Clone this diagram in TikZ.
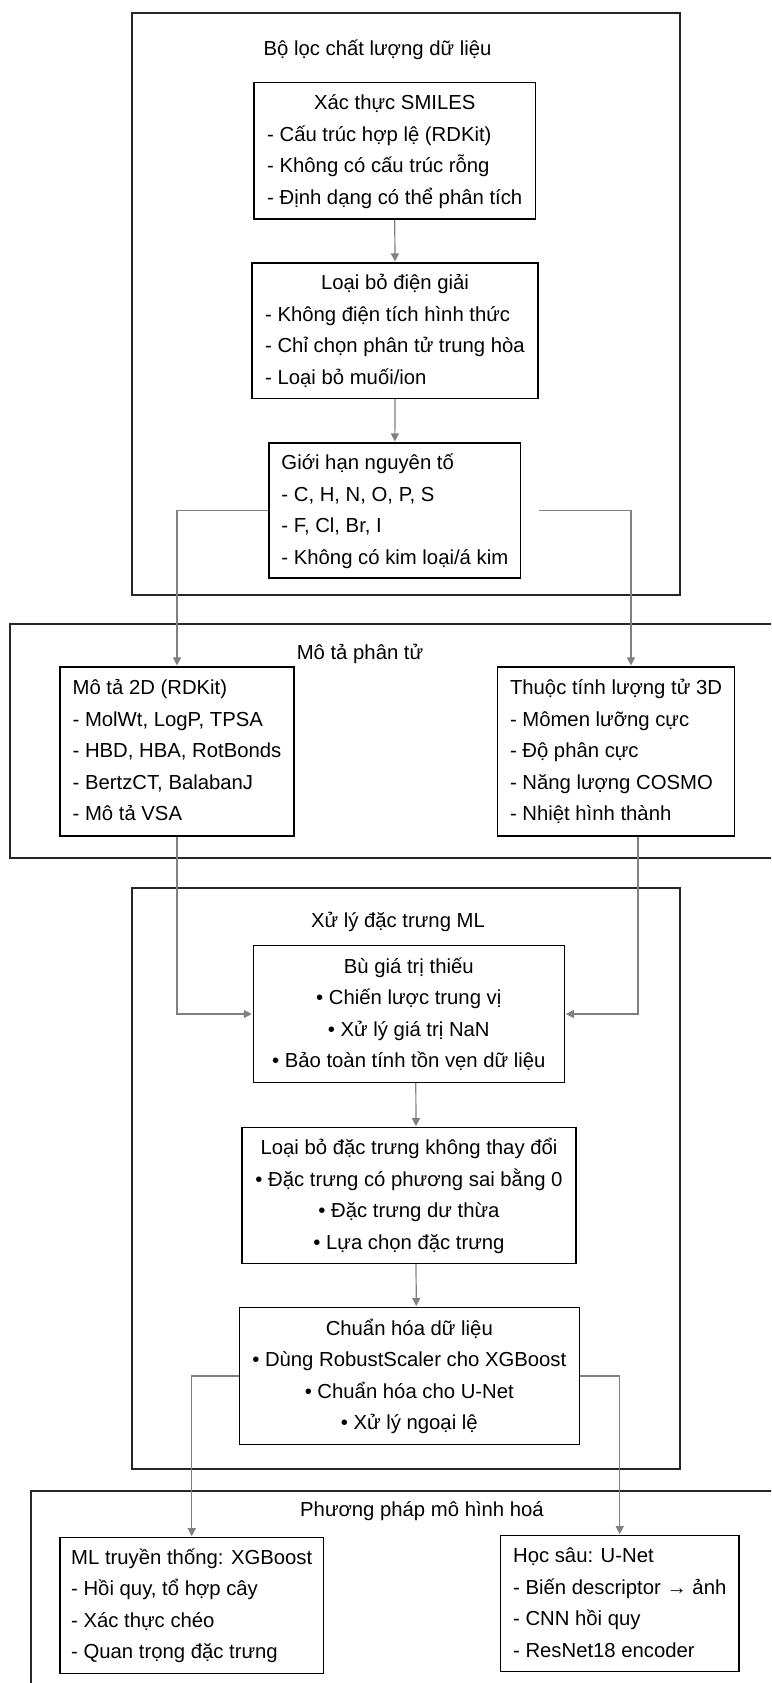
\documentclass[tikz,border=0pt]{standalone}
\usepackage{fontspec}
\setmainfont{Liberation Sans}
\usetikzlibrary{arrows.meta}
\def\linegap{31.5}
\def\textsz{20.3}

\begin{document}
\begin{tikzpicture}[x=1pt,y=-1pt,shorten >=1pt,->,>={Triangle[length=8pt,width=8pt]}]
    \tikzstyle{cluster}=[draw=black!85,line width=1.1pt]
    \tikzstyle{box}=[draw=black,line width=1.1pt,inner sep=0pt,font=\fontsize{\textsz}{\linegap}\selectfont]
    \tikzstyle{title}=[anchor=base,inner sep=0pt,font=\fontsize{\textsz}{\linegap}\selectfont]
    \tikzstyle{flow}=[draw=black!50,line width=1.2pt]

    \useasboundingbox (0,0) rectangle (771,1683);
    \clip (0,0) rectangle (771,1683);

    % Draw the four cluster frames
    \node[cluster,minimum width=548pt,minimum height=582pt] (loc) at (406,304) {};
    \node[cluster,minimum width=780pt,minimum height=234pt] (mota) at (400,741) {};
    \node[cluster,minimum width=548pt,minimum height=581pt] (xuly) at (406,1178.5) {};
    \node[cluster,minimum width=759pt,minimum height=229pt] (mohinh) at (410.5,1605.5) {};

    % Cluster titles
    \node[title] (loc-t) at (377.5,56) {Bộ lọc chất lượng dữ liệu};
    \node[title] (mota-t) at (360,659) {Mô tả phân tử};
    \node[title] (xuly-t) at (398,927) {Xử lý đặc trưng ML};
    \node[title] (mohinh-t) at (422,1516) {Phương pháp mô hình hoá};

    % Data quality filter
    \node[box,minimum width=281.5pt,minimum height=136.3pt] (xacthuc) at (394.75,150.85)
        {\begin{tabular}{@{}c@{}}Xác thực SMILES\\\begin{tabular}[t]{@{}l@{}}- Cấu trúc hợp lệ (RDKit)\\- Không có cấu trúc rỗng\\- Định dạng có thể phân tích\end{tabular}\end{tabular}};
    \node[box,minimum width=286pt,minimum height=135.4pt] (dien) at (395,330.7)
        {\begin{tabular}{@{}c@{}}Loại bỏ điện giải\\\begin{tabular}[t]{@{}l@{}}- Không điện tích hình thức\\- Chỉ chọn phân tử trung hòa\\- Loại bỏ muối/ion\end{tabular}\end{tabular}};
    \node[box,minimum width=251.7pt,minimum height=135pt] (gioihan) at (394.85,510.5)
        {\begin{tabular}{@{}l@{}}Giới hạn nguyên tố\\- C, H, N, O, P, S\\- F, Cl, Br, I\\- Không có kim loại/á kim\end{tabular}};

    % Descriptors
    \node[box,minimum width=234pt,minimum height=169pt] (mota2d) at (177,751.5)
        {\begin{tabular}{@{}l@{}}Mô tả 2D (RDKit)\\- MolWt, LogP, TPSA\\- HBD, HBA, RotBonds\\- BertzCT, BalabanJ\\- Mô tả VSA\end{tabular}};
    \node[box,minimum width=237pt,minimum height=169pt] (luongtu) at (616,751.5)
        {\begin{tabular}{@{}l@{}}Thuộc tính lượng tử 3D\\- Mômen lưỡng cực\\- Độ phân cực\\- Năng lượng COSMO\\- Nhiệt hình thành\end{tabular}};

    % ML feature processing
    \node[box,minimum width=311pt,minimum height=136.6pt] (bu) at (408.8,1014)
        {\begin{tabular}{@{}c@{}}Bù giá trị thiếu\\• Chiến lược trung vị\\• Xử lý giá trị NaN\\• Bảo toàn tính tồn vẹn dữ liệu\end{tabular}};
    \node[box,minimum width=334pt,minimum height=135.6pt] (loaibo) at (409,1195.5)
        {\begin{tabular}{@{}c@{}}Loại bỏ đặc trưng không thay đổi\\• Đặc trưng có phương sai bằng 0\\• Đặc trưng dư thừa\\• Lựa chọn đặc trưng\end{tabular}};
    \node[box,minimum width=340pt,minimum height=136.8pt] (chuanhoa) at (409.3,1376)
        {\begin{tabular}{@{}c@{}}Chuẩn hóa dữ liệu\\• Dùng RobustScaler cho XGBoost\\• Chuẩn hóa cho U-Net\\• Xử lý ngoại lệ\end{tabular}};

    % Modelling
    \node[box,minimum width=263.5pt,minimum height=135.3pt] (xgb) at (191.75,1605.4)
        {\begin{tabular}{@{}l@{}}ML truyền thống: XGBoost\\- Hồi quy, tổ hợp cây\\- Xác thực chéo\\- Quan trọng đặc trưng\end{tabular}};
    \node[box,minimum width=238.5pt,minimum height=136pt] (unet) at (619.75,1603.7)
        {\begin{tabular}{@{}l@{}}Học sâu: U-Net\\- Biến descriptor → ảnh\\- CNN hồi quy\\- ResNet18 encoder\end{tabular}};

    % Connect the filter steps
    \foreach \source / \dest in {xacthuc/dien,dien/gioihan}
        \draw[flow] (\source.south) -- (\dest.north);
    \draw[flow] (gioihan.west) -| (mota2d.north);
    \draw[flow] ([xshift=18pt]gioihan.east) -| ([xshift=15pt]luongtu.north);

    % Descriptors into the feature processing
    \draw[flow] (mota2d.south) |- (bu.west);
    \draw[flow] ([xshift=22pt]luongtu.south) |- (bu.east);
    \foreach \source / \dest in {bu/loaibo,loaibo/chuanhoa}
        \draw[flow] ([xshift=7pt]\source.south) -- ([xshift=7pt]\dest.north);

    % Scaled data to both models
    \draw[flow] (chuanhoa.west) -| (xgb.north);
    \draw[flow] (chuanhoa.east) -| (unet.north);
\end{tikzpicture}
\end{document}
